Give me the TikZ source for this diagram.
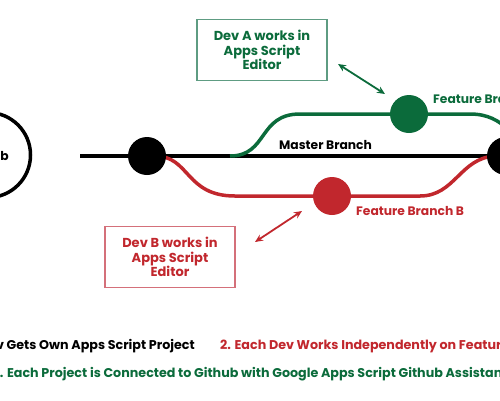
\documentclass[tikz,border=0pt]{standalone}
\usepackage{fontspec}
\setmainfont{Poppins}[UprightFont=* Bold, BoldFont=* Bold]
\usetikzlibrary{arrows.meta}
\definecolor{gdark}{HTML}{0B6B3B}
\definecolor{gbox}{HTML}{5E9C82}
\definecolor{rdark}{HTML}{C1272D}
\definecolor{rbox}{HTML}{D4707A}
\tikzset{
  lbl/.style={font=\fontsize{12.3}{14}\selectfont, inner sep=0pt},
  btm/.style={font=\fontsize{12.7}{15}\selectfont, inner sep=0pt},
  boxtxt/.style={font=\fontsize{13}{14.5}\selectfont, align=center, inner sep=0pt},
  dot/.style={circle, minimum size=38pt, inner sep=0pt},
  mline/.style={line width=3.5pt},
  dbl/.style={line width=1.8pt, {Stealth[length=8pt,width=7pt]}-{Stealth[length=8pt,width=7pt]}},
}
\begin{document}
\begin{tikzpicture}[x=1pt,y=-1pt]
\useasboundingbox (0,0) rectangle (500,400);
\clip (0,0) rectangle (500,400);
% github circle
\node[circle, draw=black, line width=3.5pt, minimum size=85pt, inner sep=0pt] (gh) at (-12,155) {};
\node[lbl, anchor=base east] (ghtxt) at (9,160) {Github};
% main line
\coordinate (mstart) at (80,156);
\coordinate (mend) at (520,156);
\draw[mline] (mstart) -- (mend);
% green branch
\coordinate (gs) at (230,156);
\coordinate (ge) at (535,160);
\draw[mline, gdark] (gs) .. controls (268,156) and (258,114) .. (300,114) -- (470,114) .. controls (505,114) and (515,140) .. (ge);
% red branch
\coordinate (rs) at (155,156);
\coordinate (re) at (495,156);
\draw[mline, rdark] (rs) .. controls (190,156) and (185,196) .. (235,196) -- (420,196) .. controls (455,196) and (460,158) .. (re);
% dots
\node[dot, fill=black] (d1) at (147,156) {};
\node[dot, fill=black] (d2) at (506,156) {};
\node[dot, fill=gdark] (dA) at (409,114) {};
\node[dot, fill=rdark] (dB) at (332,196) {};
% labels
\node[lbl, anchor=base west] (mlbl) at (279,149) {Master Branch};
\node[lbl, anchor=base west, text=gdark] (fA) at (433,103) {Feature Branch A};
\node[lbl, anchor=base west, text=rdark] (fB) at (356,215) {Feature Branch B};
% boxes
\node[draw=gbox, line width=1.5pt, minimum width=130pt, minimum height=61pt, text=gdark, boxtxt] (boxA) at (262,50) {Dev A works in\\Apps Script\\Editor};
\node[draw=rbox, line width=1.5pt, minimum width=130pt, minimum height=61pt, text=rdark, boxtxt] (boxB) at (170,257) {Dev B works in\\Apps Script\\Editor};
% arrows
\coordinate (aA1) at (338,64);
\coordinate (aA2) at (385,94);
\draw[dbl, gdark] (aA1) -- (aA2);
\coordinate (aB1) at (255,242);
\coordinate (aB2) at (302,211);
\draw[dbl, rdark] (aB1) -- (aB2);
% bottom
\node[btm, anchor=base east] (t1) at (195,349) {1. Each Dev Gets Own Apps Script Project};
\node[btm, anchor=base west, text=rdark] (t2) at (220,349) {2. Each Dev Works Independently on Feature Branches};
\node[btm, anchor=base west, text=gdark] (t3) at (-8,377) {3. Each Project is Connected to Github with Google Apps Script Github Assistant};
\end{tikzpicture}
\end{document}
